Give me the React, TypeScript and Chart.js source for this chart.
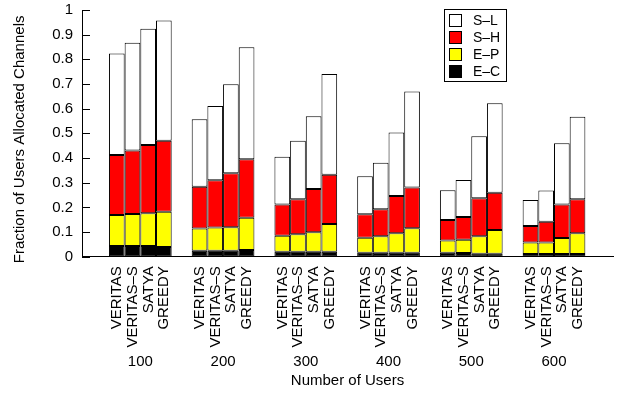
import React, { useEffect, useRef } from 'react';
import { Chart, registerables } from 'chart.js';

Chart.register(...registerables);

const groupLabels = ['100', '200', '300', '400', '500', '600'];
const methods = ['VERITAS', 'VERITAS–S', 'SATYA', 'GREEDY'];
const layerNames = ['E–C', 'E–P', 'S–H', 'S–L'];
const layerColors = ['#000000', '#ffff00', '#ff0000', '#ffffff'];
const yTitle = 'Fraction of Users Allocated Channels';
const xTitle = 'Number of Users';

// cumulative tops of each layer, rows = methods, columns = groups
const topEC = [
  [0.043, 0.024, 0.02, 0.016, 0.016, 0.011],
  [0.043, 0.024, 0.02, 0.016, 0.015, 0.011],
  [0.043, 0.024, 0.02, 0.016, 0.012, 0.011],
  [0.039, 0.027, 0.02, 0.016, 0.012, 0.011],
];
const topEP = [
  [0.169, 0.114, 0.085, 0.077, 0.066, 0.058],
  [0.173, 0.118, 0.091, 0.083, 0.069, 0.058],
  [0.176, 0.119, 0.099, 0.095, 0.083, 0.076],
  [0.182, 0.158, 0.133, 0.115, 0.108, 0.095],
];
const topSH = [
  [0.412, 0.284, 0.212, 0.172, 0.149, 0.124],
  [0.43, 0.31, 0.233, 0.192, 0.161, 0.142],
  [0.453, 0.338, 0.274, 0.246, 0.237, 0.212],
  [0.47, 0.395, 0.332, 0.281, 0.259, 0.233],
];
const topSL = [
  [0.824, 0.557, 0.405, 0.326, 0.269, 0.23],
  [0.867, 0.611, 0.47, 0.381, 0.311, 0.268],
  [0.924, 0.699, 0.569, 0.503, 0.488, 0.46],
  [0.957, 0.849, 0.741, 0.67, 0.622, 0.567],
];
const yTicks = [0, 0.1, 0.2, 0.3, 0.4, 0.5, 0.6, 0.7, 0.8, 0.9, 1];

const FONT = "'Liberation Sans', Arial, Helvetica, sans-serif";

export default function App() {
  const ref = useRef<HTMLCanvasElement | null>(null);

  useEffect(() => {
    const canvas = ref.current;
    if (!canvas) return;
    const tops = [topEC, topEP, topSH, topSL];
    const datasets: any[] = [];
    methods.forEach((m, mi) => {
      layerNames.forEach((ln, li) => {
        datasets.push({
          label: m + ' ' + ln,
          stack: m,
          data: groupLabels.map((_, g) => ({
            x: g,
            y: tops[li][mi][g] - (li > 0 ? tops[li - 1][mi][g] : 0),
          })),
          backgroundColor: layerColors[li],
          borderColor: '#000000',
          borderWidth: 1,
          borderSkipped: false,
          categoryPercentage: 0.758,
          barPercentage: 1,
        });
      });
    });

    const extras = {
      id: 'extras',
      afterDraw(chart: any) {
        const { ctx, chartArea } = chart;
        const y = chart.scales.y;
        ctx.save();
        // inward y ticks
        ctx.strokeStyle = '#000';
        ctx.lineWidth = 1;
        yTicks.forEach((v) => {
          const py = Math.round(y.getPixelForValue(v)) + 0.5;
          ctx.beginPath();
          ctx.moveTo(chartArea.left, py);
          ctx.lineTo(chartArea.left + 8, py);
          ctx.stroke();
        });
        // y axis title
        ctx.fillStyle = '#000';
        ctx.font = '15px ' + FONT;
        ctx.textAlign = 'center';
        ctx.textBaseline = 'middle';
        ctx.save();
        ctx.translate(20, (chartArea.top + chartArea.bottom) / 2 + 6);
        ctx.rotate(-Math.PI / 2);
        ctx.fillText(yTitle, 0, 0);
        ctx.restore();
        // method labels under each bar
        ctx.textAlign = 'right';
        ctx.textBaseline = 'alphabetic';
        methods.forEach((m, mi) => {
          const meta = chart.getDatasetMeta(mi * layerNames.length);
          meta.data.forEach((el: any) => {
            ctx.save();
            ctx.translate(el.x + 4.5, chartArea.bottom + 9.5);
            ctx.rotate(-Math.PI / 2);
            ctx.fillText(m, 0, 0);
            ctx.restore();
          });
        });
        // legend
        const bx = Math.round(chartArea.right - 169);
        const by = Math.round(chartArea.top - 1);
        ctx.strokeStyle = '#000';
        ctx.strokeRect(bx + 0.5, by + 0.5, 62, 72);
        ctx.font = '14px ' + FONT;
        ctx.textAlign = 'left';
        ctx.textBaseline = 'middle';
        for (let i = 0; i < 4; i++) {
          const li = 3 - i;
          const cy = by + 11 + i * 17;
          ctx.fillStyle = layerColors[li];
          ctx.fillRect(bx + 5, Math.round(cy - 6), 13, 13);
          ctx.strokeRect(bx + 5.5, Math.round(cy - 6) + 0.5, 12, 12);
          ctx.fillStyle = '#000';
          ctx.fillText(layerNames[li], bx + 29, cy + 1);
        }
        ctx.restore();
      },
    };

    const chart = new Chart(canvas, {
      type: 'bar',
      data: { datasets },
      plugins: [extras],
      options: {
        animation: false,
        responsive: false,
        devicePixelRatio: 1,
        layout: { padding: { top: 10, right: 10, bottom: 0, left: 0 } },
        plugins: { legend: { display: false }, tooltip: { enabled: false } },
        scales: {
          x: {
            type: 'linear',
            stacked: true,
            offset: false,
            min: -0.705,
            max: 5.713,
            afterBuildTicks: (axis: any) => {
              axis.ticks = groupLabels.map((_, i) => ({ value: i }));
            },
            afterFit: (axis: any) => {
              axis.height = 138.3;
              axis.paddingLeft = 0;
              axis.paddingRight = 0;
            },
            grid: { display: false, drawTicks: false },
            border: { display: true, color: '#000', width: 1 },
            ticks: {
              color: '#000',
              font: { family: FONT, size: 15 },
              padding: 96,
              maxRotation: 0,
              autoSkip: false,
              callback: (v: any) => groupLabels[v] ?? '',
            },
            title: {
              display: true,
              text: xTitle,
              color: '#000',
              font: { family: FONT, size: 15 },
              padding: { top: 3, bottom: 5 },
            },
          },
          y: {
            stacked: true,
            min: 0,
            max: 1,
            afterBuildTicks: (axis: any) => {
              axis.ticks = yTicks.map((v) => ({ value: v }));
            },
            afterFit: (axis: any) => {
              axis.width = 82;
              axis.paddingTop = 0;
              axis.paddingBottom = 0;
            },
            grid: { display: false, drawTicks: false },
            border: { display: true, color: '#000', width: 1 },
            ticks: {
              color: '#000',
              font: { family: FONT, size: 15 },
              padding: 9,
              autoSkip: false,
              callback: (v: any) => String(Math.round(v * 10) / 10),
            },
            title: { display: false },
          },
        },
      } as any,
    });
    return () => chart.destroy();
  }, []);

  return (
    <div style={{ position: 'fixed', left: 0, top: 0, width: 623, height: 395, background: '#fff' }}>
      <canvas ref={ref} width={623} height={395} />
    </div>
  );
}
